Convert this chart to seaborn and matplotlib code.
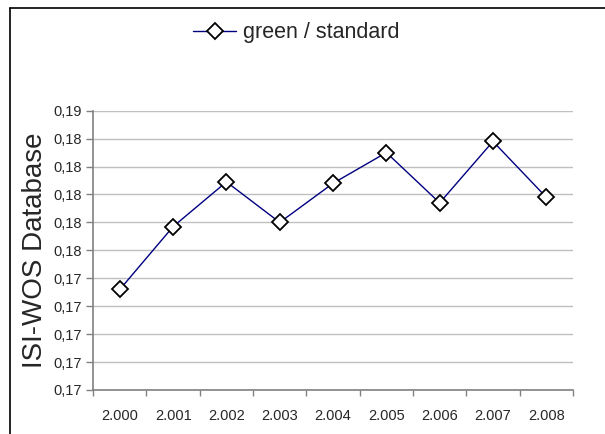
import matplotlib
matplotlib.use("Agg")
import matplotlib.pyplot as plt
import seaborn as sns
import numpy as np
from matplotlib.lines import Line2D

# Data
years = ["2.000", "2.001", "2.002", "2.003", "2.004", "2.005", "2.006", "2.007", "2.008"]
values = [0.1732, 0.1777, 0.1809, 0.1780, 0.1808, 0.1830, 0.1794, 0.1838, 0.1798]
y_ticks = [0.166, 0.168, 0.170, 0.172, 0.174, 0.176, 0.178, 0.180, 0.182, 0.184, 0.186]
y_labels = ["0,17", "0,17", "0,17", "0,17", "0,17", "0,18", "0,18", "0,18", "0,18", "0,18", "0,19"]
series_name = "green / standard"

sns.set_theme(style="white")
plt.rcParams["font.family"] = ["Liberation Sans", "DejaVu Sans"]

fig = plt.figure(figsize=(6.05, 4.34), dpi=100)
ax = fig.add_axes([0.154, 0.1014, 0.793, 0.6436])

sns.lineplot(x=years, y=values, ax=ax, color="#000080", linewidth=1.0,
             marker="D", markersize=8, markerfacecolor="white",
             markeredgecolor="black", markeredgewidth=1.3, label=series_name,
             sort=False)

ax.set_xlim(-0.5, len(years) - 0.5)
ax.set_ylim(y_ticks[0], y_ticks[-1])
ax.set_yticks(y_ticks)
ax.set_yticklabels(y_labels)
ax.set_xticks(range(len(years)))
ax.set_xticklabels(years)
ax.set_xticks(np.arange(-0.5, len(years)), minor=True)

ax.grid(axis="y", color="#c0c0c0", linewidth=1)
ax.set_axisbelow(True)
for s in ["top", "right"]:
    ax.spines[s].set_visible(False)
for s in ["left", "bottom"]:
    ax.spines[s].set_color("#808080")
    ax.spines[s].set_linewidth(1.2)

ax.tick_params(axis="y", which="major", left=True, length=5, width=1,
               color="#808080", labelsize=10.5, pad=3)
ax.tick_params(axis="x", which="major", bottom=False, labelsize=10.5, pad=8)
ax.tick_params(axis="x", which="minor", bottom=True, length=4, width=1,
               color="#808080")

ax.set_ylabel("ISI-WOS Database", fontsize=20, labelpad=4)
ax.set_xlabel("")

ax.legend(loc="center", bbox_to_anchor=(0.49, 0.924),
          bbox_transform=fig.transFigure, frameon=False, fontsize=15.5,
          handlelength=2, handletextpad=0.3)

# chart frame (cropped at right and bottom)
fig.add_artist(Line2D([0.0165, 0.0165], [0.0, 0.982], color="black", linewidth=1.2,
                      transform=fig.transFigure))
fig.add_artist(Line2D([0.0165, 1.0], [0.982, 0.982], color="black", linewidth=1.2,
                      transform=fig.transFigure))

fig.savefig("out.png", dpi=100)
plt.close(fig)
